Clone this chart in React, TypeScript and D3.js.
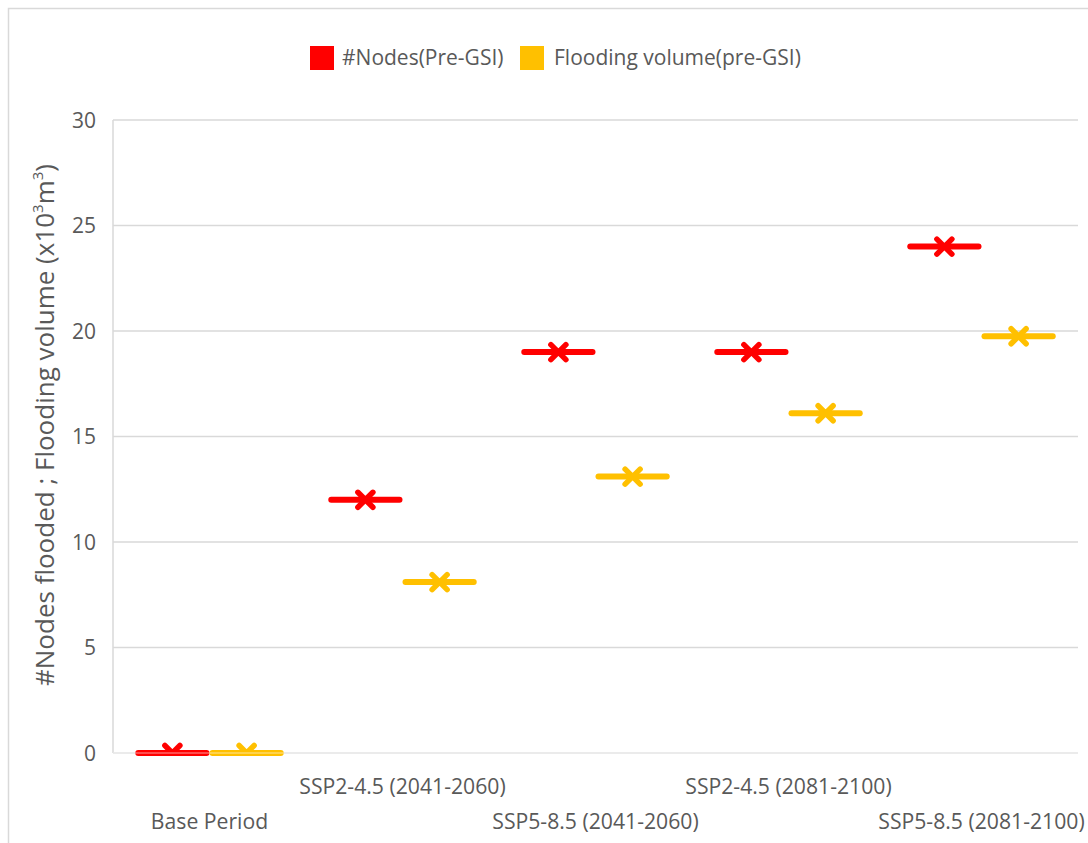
import { useEffect, useRef } from 'react';
import * as d3 from 'd3';

// values
const categories = [
  'Base Period',
  'SSP2-4.5 (2041-2060)',
  'SSP5-8.5 (2041-2060)',
  'SSP2-4.5 (2081-2100)',
  'SSP5-8.5 (2081-2100)',
];
const seriesNames = ['#Nodes(Pre-GSI)', 'Flooding volume(pre-GSI)'];
const seriesColors = ['#ff0000', '#ffc000'];
const nodesFlooded = [0, 12, 19, 19, 24];
const floodingVolume = [0, 8.1, 13.1, 16.1, 19.75];
const yTicks = [0, 5, 10, 15, 20, 25, 30];

export default function App() {
  const svgRef = useRef<SVGSVGElement>(null);

  useEffect(() => {
    if (!svgRef.current) return;
    const svg = d3.select(svgRef.current);
    svg.selectAll('*').remove();

    const width = 1088;
    const height = 843;
    const margin = { top: 120, right: 10, bottom: 90, left: 113 };
    const textColor = '#595959';
    const gridColor = '#d9d9d9';
    const font = "'Open Sans', sans-serif";

    // outer frame (open on the right, like the cropped screenshot)
    svg
      .append('path')
      .attr('d', `M${width + 5},8.5 H8.5 V${height + 5}`)
      .attr('fill', 'none')
      .attr('stroke', '#d9d9d9')
      .attr('stroke-width', 1.5);

    const x = d3
      .scaleBand<string>()
      .domain(categories)
      .range([margin.left, width - margin.right]);

    const xInner = d3
      .scaleBand<string>()
      .domain(seriesNames)
      .range([0, x.bandwidth()])
      .paddingOuter(0.3);

    const y = d3
      .scaleLinear()
      .domain([0, 30])
      .range([height - margin.bottom, margin.top]);

    // gridlines
    svg
      .append('g')
      .selectAll('line')
      .data(yTicks)
      .enter()
      .append('line')
      .attr('x1', margin.left)
      .attr('x2', width - margin.right)
      .attr('y1', (d) => y(d))
      .attr('y2', (d) => y(d))
      .attr('stroke', gridColor)
      .attr('stroke-width', 1.5);

    // left axis line
    svg
      .append('line')
      .attr('x1', margin.left)
      .attr('x2', margin.left)
      .attr('y1', y(30))
      .attr('y2', y(0))
      .attr('stroke', gridColor)
      .attr('stroke-width', 1.5);

    // y tick labels
    svg
      .append('g')
      .selectAll('text')
      .data(yTicks)
      .enter()
      .append('text')
      .attr('x', margin.left - 17)
      .attr('y', (d) => y(d))
      .attr('dy', '0.36em')
      .attr('text-anchor', 'end')
      .attr('fill', textColor)
      .attr('font-family', font)
      .attr('font-size', 21)
      .text((d) => d);

    // y axis title
    const title = svg
      .append('text')
      .attr('transform', `translate(54,425) rotate(-90)`)
      .attr('text-anchor', 'middle')
      .attr('fill', textColor)
      .attr('font-family', font)
      .attr('font-size', 26);
    title.append('tspan').text('#Nodes flooded ; Flooding volume (x10');
    title.append('tspan').attr('font-size', 15).attr('dy', -11).text('3');
    title.append('tspan').attr('dy', 11).text('m');
    title.append('tspan').attr('font-size', 15).attr('dy', -11).text('3');
    title.append('tspan').attr('dy', 11).text(')');

    // x category labels, staggered on two rows
    svg
      .append('g')
      .selectAll('text')
      .data(categories)
      .enter()
      .append('text')
      .attr('x', (d) => (x(d) ?? 0) + x.bandwidth() / 2)
      .attr('y', (d, i) => (i % 2 === 0 ? 829 : 794))
      .attr('text-anchor', 'middle')
      .attr('fill', textColor)
      .attr('font-family', font)
      .attr('font-size', 21.2)
      .text((d) => d);

    // clip so markers at zero lose their lower half
    svg
      .append('clipPath')
      .attr('id', 'plot-clip')
      .append('rect')
      .attr('x', 0)
      .attr('y', 0)
      .attr('width', width)
      .attr('height', y(0));

    const seriesData = [nodesFlooded, floodingVolume];
    const barW = xInner.bandwidth();
    const arm = 7.5;

    seriesData.forEach((values, si) => {
      const color = seriesColors[si];
      const g = svg.append('g');
      const pts = categories.map((c, i) => ({
        cx: (x(c) ?? 0) + (xInner(seriesNames[si]) ?? 0) + barW / 2,
        cy: y(values[i]),
      }));

      g.selectAll('line.bar')
        .data(pts)
        .enter()
        .append('line')
        .attr('class', 'bar')
        .attr('x1', (d) => d.cx - barW / 2 + 3)
        .attr('x2', (d) => d.cx + barW / 2 - 3)
        .attr('y1', (d) => d.cy)
        .attr('y2', (d) => d.cy)
        .attr('stroke', color)
        .attr('stroke-width', 6)
        .attr('stroke-linecap', 'round');

      const marks = g
        .selectAll('g.mark')
        .data(pts)
        .enter()
        .append('g')
        .attr('class', 'mark')
        .attr('clip-path', 'url(#plot-clip)');

      marks
        .append('path')
        .attr(
          'd',
          (d) =>
            `M${d.cx - arm},${d.cy - arm}L${d.cx + arm},${d.cy + arm}M${d.cx + arm},${d.cy - arm}L${d.cx - arm},${d.cy + arm}`
        )
        .attr('stroke', color)
        .attr('stroke-width', 5.5)
        .attr('stroke-linecap', 'round')
        .attr('fill', 'none');
    });

    // the zero axis line shows through the bars at zero
    svg
      .append('line')
      .attr('x1', margin.left)
      .attr('x2', width - margin.right)
      .attr('y1', y(0))
      .attr('y2', y(0))
      .attr('stroke', '#ffffff')
      .attr('stroke-opacity', 0.6)
      .attr('stroke-width', 1.2);

    // legend
    const legend = svg.append('g').attr('transform', 'translate(0,58)');
    const legendX = [310, 520];
    seriesNames.forEach((name, i) => {
      legend
        .append('rect')
        .attr('x', legendX[i])
        .attr('y', -12)
        .attr('width', 24)
        .attr('height', 24)
        .attr('fill', seriesColors[i]);
      legend
        .append('text')
        .attr('x', legendX[i] + 32 + i * 2)
        .attr('y', 0)
        .attr('dy', '0.35em')
        .attr('fill', textColor)
        .attr('font-family', font)
        .attr('font-size', 21)
        .text(name);
    });
  }, []);

  return (
    <svg
      ref={svgRef}
      width={1088}
      height={843}
      style={{ position: 'absolute', left: 0, top: 0, background: '#ffffff' }}
    />
  );
}
